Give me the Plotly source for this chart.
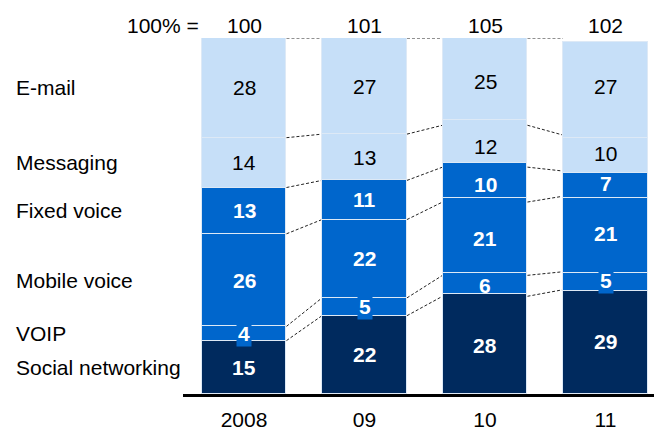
import plotly.graph_objects as go

# Years and total volume (100% base) for each year
years = ["2008", "09", "10", "11"]
totals = [100, 101, 105, 102]

# Share of each communication channel (%), listed bottom to top of the stack
social_networking = [15, 22, 28, 29]
voip = [4, 5, 6, 5]
mobile_voice = [26, 22, 21, 21]
fixed_voice = [13, 11, 10, 7]
messaging = [14, 13, 12, 10]
email = [28, 27, 25, 27]

series = [
    ("Social networking", social_networking, "#002A5E", "white", True),
    ("VOIP", voip, "#0066CC", "white", True),
    ("Mobile voice", mobile_voice, "#0066CC", "white", True),
    ("Fixed voice", fixed_voice, "#0066CC", "white", True),
    ("Messaging", messaging, "#C6DFF8", "black", False),
    ("E-mail", email, "#C6DFF8", "black", False),
]

FONT = "Liberation Sans, Arial, sans-serif"
W, H = 654, 430
ML, MR, MT, MB = 183, 0, 38, 35.5
BAR_W = 0.705
PX_PER_CAT = 120.5
X0_PX = 244  # pixel centre of the first bar
SMALL_SHARE = 5.5  # segments thinner than this get a filled label box
x_pos = list(range(len(years)))
x_range = [(ML - X0_PX) / PX_PER_CAT, (W - MR - X0_PX) / PX_PER_CAT]


def px_to_paper(px):
    return (px - ML) / (W - ML - MR)


fig = go.Figure()
for name, vals, color, _, _ in series:
    fig.add_trace(go.Bar(
        x=x_pos, y=vals, name=name, width=BAR_W,
        marker=dict(color=color, line=dict(color="#DDE9F6", width=1.2)),
        hoverinfo="skip",
    ))

# Normalised stack boundaries for every year
col_sums = [sum(s[1][j] for s in series) for j in range(len(years))]
bounds = []  # bounds[k][j] = top of series k in year j (percent)
running = [0.0] * len(years)
for name, vals, color, tcolor, bold in series:
    lows = running[:]
    running = [running[j] + vals[j] / col_sums[j] * 100 for j in range(len(years))]
    bounds.append(running[:])
    for j in range(len(years)):
        share = running[j] - lows[j]
        mid = (lows[j] + running[j]) / 2
        txt = f"<b>{vals[j]}</b>" if bold else str(vals[j])
        fig.add_annotation(
            x=x_pos[j], y=mid, xref="x", yref="y", text=txt, showarrow=False,
            font=dict(family=FONT, size=21, color=tcolor),
            bgcolor=color if share < SMALL_SHARE else "rgba(0,0,0,0)",
            borderpad=1,
        )
    # Channel name beside the first bar
    fig.add_annotation(
        x=px_to_paper(14), y=(lows[0] + running[0]) / 2, xref="paper", yref="y",
        text=name, showarrow=False, xanchor="left",
        font=dict(family=FONT, size=21, color="black"),
    )

# Dashed connectors between neighbouring bars at each boundary
for k in range(len(series)):
    for j in range(len(years) - 1):
        fig.add_shape(
            type="line", xref="x", yref="y",
            x0=x_pos[j] + BAR_W / 2, y0=bounds[k][j],
            x1=x_pos[j + 1] - BAR_W / 2, y1=bounds[k][j + 1],
            line=dict(color="#222222", width=1, dash="3px,2px"),
            layer="below",
        )

# 100% totals above the bars
fig.add_annotation(
    x=px_to_paper(201), y=100, xref="paper", yref="y", yshift=13,
    text="100% =", showarrow=False, xanchor="right", yanchor="middle",
    font=dict(family=FONT, size=21, color="black"),
)
for j, t in enumerate(totals):
    fig.add_annotation(
        x=x_pos[j], y=100, xref="x", yref="y", yshift=13,
        text=str(t), showarrow=False, yanchor="middle",
        font=dict(family=FONT, size=21, color="black"),
    )

fig.update_layout(
    width=W, height=H, barmode="stack",
    margin=dict(l=ML, r=MR, t=MT, b=MB, pad=0),
    plot_bgcolor="white", paper_bgcolor="white",
    showlegend=False, bargap=0,
    font=dict(family=FONT, size=21, color="black"),
)
fig.update_xaxes(
    range=x_range, tickvals=x_pos, ticktext=years,
    showline=True, linecolor="black", linewidth=2.5,
    showgrid=False, zeroline=False, ticks="",
    ticklabelstandoff=5,
    tickfont=dict(family=FONT, size=21, color="black"),
    fixedrange=True,
)
fig.update_yaxes(range=[0, 100], visible=False, fixedrange=True)

fig.write_html("out.html", config={"displayModeBar": False})
